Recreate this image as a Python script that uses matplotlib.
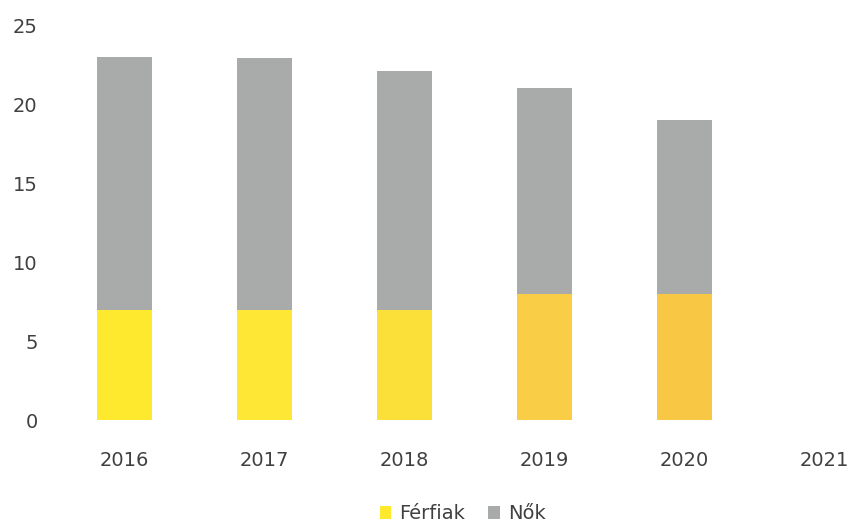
import matplotlib.pyplot as plt
import numpy as np

years = ["2016", "2017", "2018", "2019", "2020", "2021"]
ferfiak = [7.0, 7.0, 7.0, 8.0, 8.0, 0]
nok = [16.0, 15.9, 15.1, 13.0, 11.0, 0]

# scanned look: yellow gets warmer to the right
yellow_shades = ["#FFE92E", "#FFE835", "#FCE03A", "#F9CD45", "#F8C744", "#F8C744"]
gray = "#A9AAAA"
text_col = "#404040"

fig = plt.figure(figsize=(8.49, 5.24), dpi=100)
ax = fig.add_axes([0.064, 0.198, 0.99, 0.754])

x = np.arange(len(years))
w = 0.39
ax.bar(x, ferfiak, w, color=yellow_shades, label="Férfiak")
ax.bar(x, nok, w, bottom=ferfiak, color=gray, label="Nők")

ax.set_xlim(-0.5, 5.5)
ax.set_ylim(0, 25)
ax.set_yticks([0, 5, 10, 15, 20, 25])
ax.set_xticks(x)
ax.set_xticklabels(years)
for s in ax.spines.values():
    s.set_visible(False)
ax.tick_params(axis="both", length=0, labelsize=14, colors=text_col)
ax.tick_params(axis="y", pad=12)
ax.tick_params(axis="x", pad=22)

handles, labels = ax.get_legend_handles_labels()
handles[0].patches[0].set_facecolor("#FFE92E")
fig.legend(handles, labels, loc="lower center", bbox_to_anchor=(0.545, -0.032),
           ncol=2, frameon=False, fontsize=14, labelcolor=text_col,
           handlelength=0.6, handleheight=0.6, handletextpad=0.4, columnspacing=1.2)

fig.savefig("out.png", dpi=100, facecolor="white")
plt.close()
